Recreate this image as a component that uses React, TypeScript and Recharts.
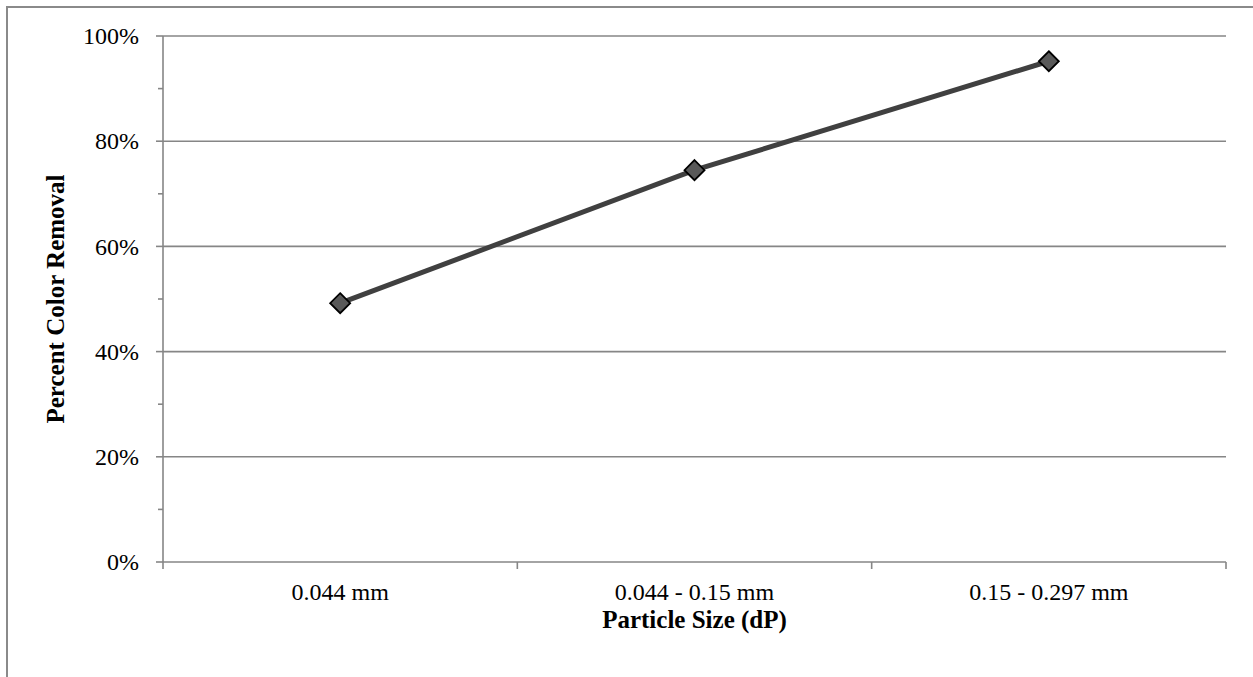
import React from 'react';
import { LineChart, Line, XAxis, YAxis, ReferenceLine, Label } from 'recharts';

const categories = ['0.044 mm', '0.044 - 0.15 mm', '0.15 - 0.297 mm'];
const removalValues = [0.492, 0.745, 0.952];
const yMajorTicks = [0, 0.2, 0.4, 0.6, 0.8, 1];
const yAllTicks = [0, 0.1, 0.2, 0.3, 0.4, 0.5, 0.6, 0.7, 0.8, 0.9, 1];
const xBoundaryTicks = [0, 1, 2, 3];
const xLabelTicks = [0.5, 1.5, 2.5];
const xTitle = 'Particle Size (dP)';
const yTitle = 'Percent Color Removal';

const data = categories.map((name, i) => ({ pos: xLabelTicks[i], name, value: removalValues[i] }));

const AXIS = '#868686';
const FONT = '"Liberation Serif", "Times New Roman", serif';
const TICK_FS = 24;
const TITLE_FS = 25;
const Y_TICK = 7;
const Y_MINOR = 5;
const Y_MARGIN = 17;
const X_TICK = 7;
const X_MARGIN = 14;

const YTick = (props: any) => {
  const { x, y, payload } = props;
  const axisX = x + Y_TICK + Y_MARGIN;
  const isMajor = yMajorTicks.some((v) => Math.abs(v - payload.value) < 1e-9);
  return (
    <g>
      <line x1={axisX - (isMajor ? Y_TICK : Y_MINOR)} x2={axisX} y1={y} y2={y} stroke={AXIS} strokeWidth={1.6} />
      {isMajor && (
        <text x={x} y={y} dy="0.34em" textAnchor="end" fontFamily={FONT} fontSize={TICK_FS} fill="#000">
          {`${Math.round(payload.value * 100)}%`}
        </text>
      )}
    </g>
  );
};

const XTick = (props: any) => {
  const { x, y, payload } = props;
  const axisY = y - X_TICK - X_MARGIN;
  const idx = xLabelTicks.findIndex((v) => Math.abs(v - payload.value) < 1e-9);
  if (idx >= 0) {
    return (
      <text x={x} y={y} dy="0.71em" textAnchor="middle" fontFamily={FONT} fontSize={TICK_FS} fill="#000">
        {categories[idx]}
      </text>
    );
  }
  return <line x1={x} x2={x} y1={axisY} y2={axisY + X_TICK} stroke={AXIS} strokeWidth={1.6} />;
};

const Diamond = (props: any) => {
  const { cx, cy } = props;
  if (cx == null || cy == null) return <g />;
  const r = 10;
  return (
    <polygon
      points={`${cx},${cy - r} ${cx + r},${cy} ${cx},${cy + r} ${cx - r},${cy}`}
      fill="#595959"
      stroke="#000"
      strokeWidth={1.8}
    />
  );
};

export default function App() {
  const xTicks = [...xBoundaryTicks, ...xLabelTicks].sort((a, b) => a - b);
  return (
    <div style={{ position: 'absolute', left: 0, top: 0, width: 1253, height: 677, overflow: 'hidden', background: '#fff' }}>
      <div
        style={{
          position: 'absolute',
          left: 6,
          top: 6,
          width: 1400,
          height: 800,
          borderLeft: '2px solid #8a8a8a',
          borderTop: '2px solid #8a8a8a',
        }}
      />
      <div style={{ position: 'absolute', left: 0, top: 0 }}>
        <LineChart width={1253} height={677} data={data} margin={{ top: 36, right: 27, left: 0, bottom: 75 }}>
          <XAxis
            dataKey="pos"
            type="number"
            domain={[0, 3]}
            ticks={xTicks}
            interval={0}
            height={40}
            tickSize={X_TICK}
            tickMargin={X_MARGIN}
            tickLine={false}
            axisLine={{ stroke: AXIS, strokeWidth: 1.6 }}
            tick={<XTick />}
          >
            <Label
              value={xTitle}
              position="bottom"
              offset={8}
              fontFamily={FONT}
              fontSize={TITLE_FS}
              fontWeight="bold"
              fill="#000"
            />
          </XAxis>
          <YAxis
            type="number"
            domain={[0, 1]}
            ticks={yAllTicks}
            interval={0}
            width={163}
            tickSize={Y_TICK}
            tickMargin={Y_MARGIN}
            tickLine={false}
            axisLine={{ stroke: AXIS, strokeWidth: 1.6 }}
            tick={<YTick />}
          >
            <Label
              value={yTitle}
              angle={-90}
              position="insideLeft"
              offset={55}
              fontFamily={FONT}
              fontSize={TITLE_FS}
              fontWeight="bold"
              fill="#000"
              style={{ textAnchor: 'middle' }}
            />
          </YAxis>
          {yMajorTicks.slice(1).map((v) => (
            <ReferenceLine key={v} y={v} stroke={AXIS} strokeWidth={1.6} />
          ))}
          <Line
            type="linear"
            dataKey="value"
            stroke="#404040"
            strokeWidth={5}
            dot={(p: any) => <Diamond key={p.index} {...p} />}
            activeDot={false}
            isAnimationActive={false}
          />
        </LineChart>
      </div>
    </div>
  );
}
